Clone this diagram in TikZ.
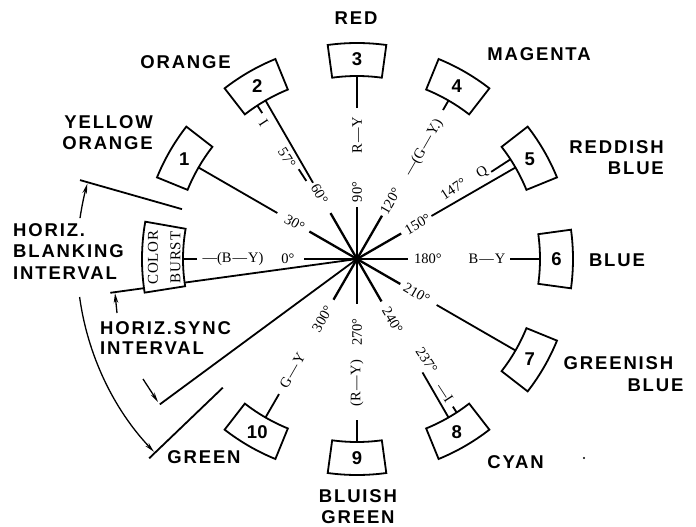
\documentclass[tikz,border=0pt]{standalone}
\usepackage{fontspec}
\setmainfont{Liberation Serif}
\newfontfamily\lblfont{Liberation Sans}[LetterSpace=10.0]
\newfontfamily\numfont{Liberation Sans}
\newfontfamily\serfont{Liberation Serif}
\newfontfamily\cbfont{Liberation Serif}[LetterSpace=5.0]
\usetikzlibrary{arrows.meta}
\tikzset{
  ln/.style={line width=1.8pt},
  spk/.style={line width=2.3pt},
  boxst/.style={line width=1.8pt, fill=white, line join=miter},
  big/.style={font=\lblfont\bfseries\fontsize{18.5}{21}\selectfont, inner sep=0pt},
  num/.style={font=\numfont\bfseries\fontsize{18.5}{21}\selectfont, inner sep=0pt},
  deg/.style={font=\serfont\fontsize{14.5}{16}\selectfont, inner sep=0pt},
  cb/.style={font=\cbfont\fontsize{15}{16}\selectfont, inner sep=0pt, rotate=90},
  arr/.style={line width=1.3pt, -{Stealth[length=10pt,width=4.5pt]}},
}
\newcommand{\csect}[4]{%
  \draw[boxst] ({#2-#3}:183) arc[start angle={#2-#3}, end angle={#2+#3}, radius=183pt]
     -- ({#2+#3}:216) arc[start angle={#2+#3}, end angle={#2-#3}, radius=216pt] -- cycle;
  \node[num] (#1) at (#2:199.5) {#4};}
\newcommand{\rayseg}[4]{%
  \coordinate (#1a) at (#2:#3); \coordinate (#1b) at (#2:#4);
  \draw[ln] (#1a) -- (#1b);}
\begin{document}
\begin{tikzpicture}[x=1pt,y=1pt]
\useasboundingbox (0,0) rectangle (696,-527);
\begin{scope}[shift={(357,-259)}]
\coordinate (O) at (0,0);
% horizontal blanking / sync lines
\rayseg{hbu}{164.1}{182}{288}
\rayseg{hbl}{223.8}{186}{288}
\coordinate (sy1) at (187.8:249);
\coordinate (sy2) at (216.4:245);
\draw[ln] (O) -- (sy1);
\draw[ln] (O) -- (sy2);
\coordinate (au0) at (171.6:280);
\coordinate (al0) at (187.8:280);
\draw[arr] (au0) arc[start angle=171.6, end angle=164.4, radius=280pt];
\draw[arr] (al0) arc[start angle=187.8, end angle=223.5, radius=280pt];
% spokes
\foreach \d/\r in {0/53,30/55,60/53,90/52,120/50,150/51,180/51,210/50,240/49,270/45,300/47}{
  \coordinate (s\d) at ({180-\d}:\r);
  \draw[spk] (O) -- (s\d);
}
\fill (O) circle (4.2pt);
% degree labels
\foreach \d/\r/\rot in {0/69/0,30/72/-30,60/75/-60,90/67/90,120/67/60,150/70/30,180/71/0,210/69/-30,240/71/-60,270/73/90,300/69/60}{
  \node[deg, rotate=\rot] (d\d) at ({180-\d}:\r) {\d°};
}
% outer segments to the boxes
\rayseg{o1}{150}{92}{183}
\rayseg{o2}{120}{88}{183}
\rayseg{iax}{123}{93}{107}
\rayseg{itk}{123}{174}{183}
\rayseg{o3}{90}{151}{183}
\rayseg{o4}{60}{172}{183}
\rayseg{qtk}{33}{160}{183}
\rayseg{o5}{30}{86}{183}
\rayseg{o6}{0}{153}{183}
\rayseg{o7}{-30}{92}{183}
\rayseg{o8}{-60}{131}{183}
\rayseg{mitk}{-57}{176}{183}
\rayseg{o9}{-90}{161}{183}
\rayseg{o10}{-120}{156}{183}
\rayseg{ocb}{180}{160}{174}
% axis texts
\node[deg, rotate=-57] (t57) at (124.7:123) {57°};
\node[deg, rotate=-57] (tI) at (124.5:165) {I};
\node[deg, rotate=60] (tgy) at (59:130) {—(G\kern1pt—\kern1pt Y.)};
\node[deg, rotate=33] (t147) at (36:119) {147°};
\node[deg, rotate=33] (tQ) at (34.5:152) {Q};
\node[deg, rotate=90] (try) at (90:124) {R\kern1pt—\kern1pt Y};
\node[deg] (tby) at (180:124) {—(B\kern1pt—\kern1pt Y)};
\node[deg] (tby2) at (0:130) {B\kern1pt—\kern1pt Y};
\node[deg, rotate=-57] (t237) at (-55.5:123) {237°};
\node[deg, rotate=-57] (tmI) at (-56.7:160) {—I};
\node[deg, rotate=90] (try2) at (-90:124) {(R\kern1pt—\kern1pt Y)};
\node[deg, rotate=60] (tgy2) at (-120:129) {G\kern1pt—\kern1pt Y};
% boxes
\csect{b1}{150}{7.8}{1}
\csect{b2}{120}{7.8}{2}
\csect{b3}{90}{7.8}{3}
\csect{b4}{60}{7.8}{4}
\csect{b5}{30}{7.8}{5}
\csect{b6}{0}{7.8}{6}
\csect{b7}{-30}{7.8}{7}
\csect{b8}{-60}{7.8}{8}
\csect{b9}{-90}{7.8}{9}
\csect{b10}{-120}{7.8}{10}
% colour burst box
\draw[boxst] (170:174) arc[start angle=170, end angle=189, radius=174pt]
   -- (189:215) arc[start angle=189, end angle=170, radius=215pt] -- cycle;
\end{scope}
\node[cb] (cb1) at (153,-257.5) {COLOR};
\node[cb] (cb2) at (175.5,-257.5) {BURST};
% sync arrows
\coordinate (sa1) at (117,-313); \coordinate (sa1e) at (115,-293);
\coordinate (sa2) at (143,-379); \coordinate (sa2e) at (158,-402);
\draw[arr] (sa1) -- (sa1e);
\draw[arr] (sa2) -- (sa2e);
% colour names
\node[big] (nred) at (356,-18) {RED};
\node[big, anchor=east] (norange) at (231,-62) {ORANGE};
\node[big, anchor=east, align=right] (nyo) at (153,-133) {YELLOW\\ORANGE};
\node[big] (nmag) at (539,-54) {MAGENTA};
\node[big, anchor=east, align=right] (nrb) at (664,-157.5) {REDDISH\\BLUE};
\node[big] (nblue) at (617,-260) {BLUE};
\node[big] (ngb1) at (618.5,-363) {GREENISH};
\node[big] (ngb2) at (655.5,-385) {BLUE};
\node[big] (ncyan) at (515.5,-462) {CYAN};
\node[big, align=center] (nbg) at (358,-507) {BLUISH\\GREEN};
\node[big] (ngreen) at (204,-457) {GREEN};
\node[big, anchor=west, align=left, font=\lblfont\bfseries\fontsize{18.5}{21.5}\selectfont] (nhb) at (13,-251.5) {HORIZ.\\BLANKING\\INTERVAL};
\node[big, anchor=west, align=left, font=\lblfont\bfseries\fontsize{18.5}{20}\selectfont] (nhs) at (100,-338) {HORIZ.SYNC\\INTERVAL};
\fill (584,-458) circle (1.1pt);
\end{tikzpicture}
\end{document}
